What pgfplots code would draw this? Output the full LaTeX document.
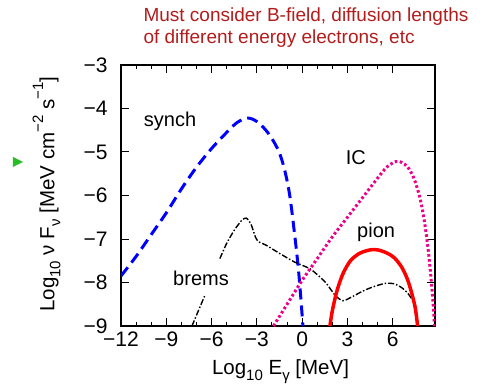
\documentclass[border=0pt]{standalone}
\usepackage{pgfplots}
\pgfplotsset{compat=1.18}
\usepackage{fontspec}
\setmainfont{Liberation Sans}
\definecolor{titlered}{RGB}{180,28,28}
\definecolor{mkgreen}{RGB}{40,190,40}
\newcommand{\fs}{\fontsize{19bp}{23bp}\selectfont}
\newcommand{\ft}{\fontsize{21bp}{25bp}\selectfont}
\newcommand{\fl}{\fontsize{20.5bp}{25bp}\selectfont}
\newcommand{\fc}{\fontsize{20bp}{24bp}\selectfont}
\newcommand{\sub}[1]{\raisebox{-0.3em}{\fontsize{15bp}{15bp}\selectfont #1}}
\newcommand{\sps}[1]{\raisebox{0.55em}{\fontsize{15bp}{15bp}\selectfont #1}}
\begin{document}
\begin{tikzpicture}
\useasboundingbox (-121bp,-64bp) rectangle (366bp,326bp);
\begin{axis}[
  at={(0,0)}, anchor=south west,
  scale only axis, width=314bp, height=261bp,
  xmin=-12, xmax=8.8, ymin=-9, ymax=-3,
  xtick={-12,-9,-6,-3,0,3,6},
  xticklabels={−12,−9,−6,−3,0,3,6},
  minor x tick num=2,
  ytick={-9,-8,-7,-6,-5,-4,-3},
  yticklabels={−9,−8,−7,−6,−5,−4,−3},
  tick align=inside,
  major tick length=8bp, minor tick length=4bp,
  every tick/.style={black, line width=1bp},
  axis line style={line width=1.3bp},
  tick label style={font=\ft},
  yticklabel style={xshift=-10bp},
  xticklabel style={yshift=-2bp},
  xlabel={Log\sub{10} E\sub{γ} [MeV]},
  ylabel={Log\sub{10} ν F\sub{ν} [MeV cm\sps{−2} s\sps{−1}]},
  label style={font=\fl},
  xlabel style={at={(axis description cs:0.508,-0.176)}, anchor=center},
  ylabel style={at={(axis description cs:-0.237,0.505)}, anchor=center},
  clip=true,
]
% synchrotron
\addplot[blue, line width=3bp, dash pattern=on 11bp off 6bp, smooth] coordinates {
(-12,-7.85) (-11,-7.4) (-10,-6.9) (-9,-6.4) (-8,-5.85) (-7,-5.35) (-6,-4.92)
(-5,-4.55) (-4.3,-4.32) (-3.6,-4.22) (-3,-4.3) (-2.4,-4.5) (-1.9,-4.75)
(-1.47,-5.05) (-1.1,-5.5) (-0.8,-6.05) (-0.48,-6.95) (-0.26,-7.65) (-0.1,-8.3) (0.05,-9)
};
% bremsstrahlung
\addplot[black, line width=1.4bp, dash pattern=on 6bp off 2bp on 1.5bp off 2bp] coordinates {
(-7.3,-9) (-6.45,-8.3)
};
\addplot[black, line width=1.4bp, dash pattern=on 6bp off 2bp on 1.5bp off 2bp, smooth, tension=0.4] coordinates {
(-5.45,-7.45) (-5,-7.1) (-4.5,-6.8) (-4,-6.57) (-3.7,-6.52)
(-3.4,-6.65) (-3.1,-6.95) (-2.9,-7.06) (-2.4,-7.14) (-1.5,-7.33) (-0.5,-7.53)
(0.5,-7.68) (1.1,-7.85) (1.6,-8.02) (2.2,-8.3) (2.7,-8.42) (3.3,-8.33) (4,-8.2)
(4.7,-8.1) (5.5,-8.02) (6.1,-8.03) (6.6,-8.12) (7.0,-8.25) (7.3,-8.4) (7.5,-8.55)
};
% inverse Compton
\addplot[magenta, line width=3bp, dash pattern=on 2.6bp off 2.4bp, smooth] coordinates {
(-1.9,-9) (-1,-8.5) (0,-7.95) (1,-7.45) (2,-6.95) (3,-6.5) (4,-6.05) (5,-5.6)
(5.6,-5.35) (6.2,-5.22) (6.6,-5.24) (7.0,-5.35) (7.4,-5.6) (7.8,-6.05) (8.1,-6.6)
(8.35,-7.25) (8.55,-7.95) (8.7,-8.6) (8.76,-9)
};
% pion
\addplot[red, line width=3.5bp, smooth] coordinates {
(1.84,-9) (2.0,-8.65) (2.3,-8.2) (2.7,-7.8) (3.2,-7.5) (3.8,-7.33) (4.5,-7.25)
(5.0,-7.25) (5.6,-7.32) (6.1,-7.43) (6.6,-7.65) (7.0,-7.95) (7.3,-8.3) (7.5,-8.6) (7.65,-9)
};
\node[font=\fc] at (axis cs:-8.75,-4.3) {synch};
\node[font=\fc] at (axis cs:-6.7,-7.9) {brems};
\node[font=\fc] at (axis cs:3.56,-5.12) {IC};
\node[font=\fc] at (axis cs:4.9,-6.84) {pion};
\end{axis}
\node[font=\fs, text=titlered, anchor=base west] at (19bp,304bp) {Must consider B-field, diffusion lengths};
\node[font=\fs, text=titlered, anchor=base west] at (19bp,282bp) {of different energy electrons, etc};
\fill[mkgreen] (-108bp,169bp) -- (-98bp,164bp) -- (-108bp,159bp) -- cycle;
\end{tikzpicture}
\end{document}
